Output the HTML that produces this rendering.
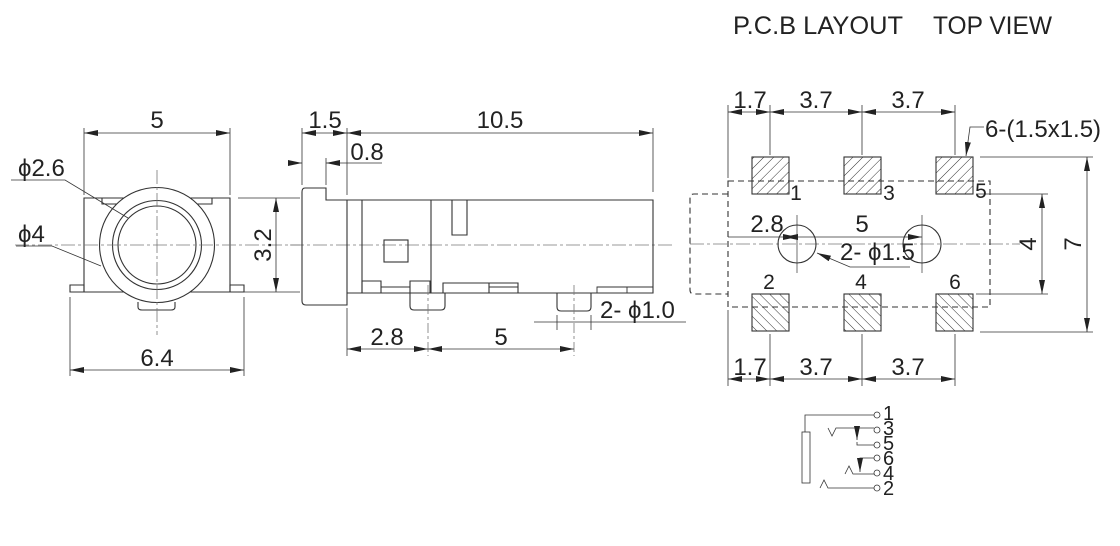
<!DOCTYPE html>
<html><head><meta charset="utf-8"><style>
html,body{margin:0;padding:0;background:#fff;}
svg{display:block;}
text{font-family:"Liberation Sans",sans-serif;fill:#222;}
</style></head><body>
<svg width="1120" height="546" viewBox="0 0 1120 546" xmlns="http://www.w3.org/2000/svg">
<defs>
<marker id="a" viewBox="0 0 14 6" refX="14" refY="3" markerWidth="14" markerHeight="6" orient="auto-start-reverse" markerUnits="userSpaceOnUse"><path d="M0,0 L14,3 L0,6 Z" fill="#222"/></marker>
<pattern id="h1" width="7" height="7" patternUnits="userSpaceOnUse" patternTransform="rotate(45)"><line x1="0" y1="0" x2="0" y2="7" stroke="#333" stroke-width="1"/></pattern>
<pattern id="h2" width="7" height="7" patternUnits="userSpaceOnUse" patternTransform="rotate(-45)"><line x1="0" y1="0" x2="0" y2="7" stroke="#333" stroke-width="1"/></pattern>
</defs>
<text x="733" y="34" font-size="25" textLength="170" lengthAdjust="spacingAndGlyphs">P.C.B LAYOUT</text>
<text x="933" y="34" font-size="25" textLength="119" lengthAdjust="spacingAndGlyphs">TOP VIEW</text>

<g fill="none" stroke="#333" stroke-width="1.1">
<!-- LEFT VIEW -->
<path d="M84,198 H230 V292 H84 Z" fill="#fff"/>
<path d="M70,285 H84 V292 H70 Z M230,285 H244 V292 H230 Z"/>
<path d="M102,198 V204 H212 V198"/>
<path d="M138,302 V307 Q138,310 142,310 H171 Q175,310 175,307 V302"/>
<circle cx="157" cy="245" r="57.5" fill="#fff"/>
<circle cx="157" cy="245" r="44.5"/>
<circle cx="157" cy="245" r="39"/>
<line x1="157" y1="170" x2="157" y2="335" stroke="#777" stroke-width="0.8" stroke-dasharray="14,3,3,3"/>
<line x1="15" y1="245" x2="300" y2="245" stroke="#777" stroke-width="0.8" stroke-dasharray="14,3,3,3"/>
<line x1="84" y1="128" x2="84" y2="195" stroke-width="0.8"/>
<line x1="230" y1="128" x2="230" y2="195" stroke-width="0.8"/>
<line x1="84" y1="133" x2="230" y2="133" stroke-width="0.8" marker-start="url(#a)" marker-end="url(#a)"/>
<line x1="238" y1="198" x2="300" y2="198" stroke-width="0.8"/>
<line x1="238" y1="292" x2="300" y2="292" stroke-width="0.8"/>
<line x1="276" y1="198" x2="276" y2="292" stroke-width="0.8" marker-start="url(#a)" marker-end="url(#a)"/>
<line x1="70" y1="297" x2="70" y2="376" stroke-width="0.8"/>
<line x1="244" y1="297" x2="244" y2="376" stroke-width="0.8"/>
<line x1="70" y1="370" x2="244" y2="370" stroke-width="0.8" marker-start="url(#a)" marker-end="url(#a)"/>
<path d="M11,180 H65 L128,218" stroke-width="0.8"/>
<path d="M16,246 H52 L101,266" stroke-width="0.8"/>

<!-- MIDDLE VIEW -->
<line x1="290" y1="245" x2="675" y2="245" stroke="#777" stroke-width="0.8" stroke-dasharray="14,3,3,3"/>
<path d="M305,188 H326 V200 H347 V305 H306 Q302,305 302,301 V192 Q302,188 305,188 Z"/>
<path d="M347,200 H653 V293 H347"/>
<line x1="362" y1="200" x2="362" y2="293"/>
<line x1="431" y1="200" x2="431" y2="293"/>
<rect x="384" y="240" width="24" height="22"/>
<path d="M452,200 V235 H467 V200"/>
<path d="M362,293 V281 H381 V293 M381,287 H410"/>
<path d="M410,293 V281 H430 V293 M410,293 V306 Q410,310 414,310 H441 Q445,310 445,306 V293"/>
<path d="M443,293 V283 H518 V293 M489,283 V293 M489,287 H518"/>
<path d="M557,293 V307 Q557,311 561,311 H587 Q591,311 591,307 V293"/>
<path d="M597,293 V287 H653 M627,287 V293" stroke-width="0.9"/>
<line x1="428" y1="285" x2="428" y2="356" stroke="#777" stroke-width="0.8" stroke-dasharray="10,3,3,3"/>
<line x1="574" y1="285" x2="574" y2="356" stroke="#777" stroke-width="0.8" stroke-dasharray="10,3,3,3"/>
<line x1="302" y1="128" x2="302" y2="185" stroke-width="0.8"/>
<line x1="347" y1="128" x2="347" y2="195" stroke-width="0.8"/>
<line x1="326" y1="158" x2="326" y2="185" stroke-width="0.8"/>
<line x1="653" y1="128" x2="653" y2="192" stroke-width="0.8"/>
<line x1="302" y1="133" x2="347" y2="133" stroke-width="0.8" marker-start="url(#a)" marker-end="url(#a)"/>
<line x1="347" y1="133" x2="653" y2="133" stroke-width="0.8" marker-end="url(#a)"/>
<line x1="347" y1="133" x2="362" y2="133" stroke-width="0.8" marker-start="url(#a)"/>
<line x1="288" y1="163" x2="302" y2="163" stroke-width="0.8" marker-end="url(#a)"/>
<line x1="382" y1="163" x2="326" y2="163" stroke-width="0.8" marker-end="url(#a)"/>
<line x1="347" y1="308" x2="347" y2="356" stroke-width="0.8"/>
<line x1="347" y1="349" x2="428" y2="349" stroke-width="0.8" marker-start="url(#a)" marker-end="url(#a)"/>
<line x1="428" y1="349" x2="574" y2="349" stroke-width="0.8" marker-start="url(#a)" marker-end="url(#a)"/>
<line x1="534" y1="322" x2="686" y2="322" stroke-width="0.8"/>
<line x1="557" y1="315" x2="557" y2="330" stroke-width="0.8"/>
<line x1="591" y1="315" x2="591" y2="330" stroke-width="0.8"/>

<!-- RIGHT PCB -->
<line x1="690" y1="244" x2="1020" y2="244" stroke="#777" stroke-width="0.8" stroke-dasharray="14,3,3,3"/>
<path d="M728,181 H990 V307 H728 Z" stroke-dasharray="6,4"/>
<path d="M728,194 H694 Q690,194 690,198 V290 Q690,294 694,294 H728" stroke-dasharray="6,4"/>
<g fill="url(#h1)"><rect x="752" y="157" width="37" height="37"/><rect x="844" y="157" width="37" height="37"/><rect x="936" y="157" width="37" height="37"/></g>
<g fill="url(#h2)"><rect x="752" y="294" width="37" height="37"/><rect x="844" y="294" width="37" height="37"/><rect x="936" y="294" width="37" height="37"/></g>
<circle cx="797" cy="244" r="19"/>
<circle cx="922" cy="244" r="19"/>
<line x1="797" y1="215" x2="797" y2="273" stroke-width="0.7"/>
<line x1="922" y1="215" x2="922" y2="273" stroke-width="0.7"/>
<g stroke-width="0.8">
<line x1="728" y1="105" x2="728" y2="178"/><line x1="770" y1="105" x2="770" y2="155"/><line x1="862" y1="105" x2="862" y2="155"/><line x1="955" y1="105" x2="955" y2="155"/>
<line x1="728" y1="112" x2="770" y2="112" marker-start="url(#a)" marker-end="url(#a)"/>
<line x1="770" y1="112" x2="862" y2="112" marker-start="url(#a)" marker-end="url(#a)"/>
<line x1="862" y1="112" x2="955" y2="112" marker-start="url(#a)" marker-end="url(#a)"/>
<line x1="728" y1="310" x2="728" y2="386"/><line x1="770" y1="334" x2="770" y2="386"/><line x1="862" y1="334" x2="862" y2="386"/><line x1="955" y1="334" x2="955" y2="386"/>
<line x1="728" y1="379" x2="770" y2="379" marker-start="url(#a)" marker-end="url(#a)"/>
<line x1="770" y1="379" x2="862" y2="379" marker-start="url(#a)" marker-end="url(#a)"/>
<line x1="862" y1="379" x2="955" y2="379" marker-start="url(#a)" marker-end="url(#a)"/>
<line x1="976" y1="194" x2="1048" y2="194"/><line x1="976" y1="294" x2="1048" y2="294"/>
<line x1="1042" y1="194" x2="1042" y2="294" marker-start="url(#a)" marker-end="url(#a)"/>
<line x1="980" y1="157" x2="1093" y2="157"/><line x1="980" y1="332" x2="1093" y2="332"/>
<line x1="1087" y1="157" x2="1087" y2="332" marker-start="url(#a)" marker-end="url(#a)"/>
<line x1="728" y1="237" x2="797" y2="237" marker-end="url(#a)"/>
<line x1="784" y1="237" x2="797" y2="237" marker-start="url(#a)"/>
<line x1="797" y1="237" x2="922" y2="237" marker-end="url(#a)"/>
<path d="M910,267 H850 L817,253" marker-end="url(#a)"/>
<path d="M984,127 H970 L966,156" marker-end="url(#a)"/>
</g>

<!-- SCHEMATIC -->
<g stroke-width="0.8">
<path d="M805,432 V415 H874"/>
<rect x="802" y="432" width="8" height="51"/>
<path d="M828,428 L832,436 L836,428 H874 M857,442 V445 H874"/>
<path d="M857,428 V440" marker-end="url(#a)"/>
<path d="M874,458 H860 V472" marker-end="url(#a)"/>
<path d="M845,474 L849,466 L853,474 H874"/>
<path d="M820,488 L824,480 L828,488 H874"/>
</g>
<g fill="#fff" stroke-width="0.8"><circle cx="877" cy="415" r="3"/><circle cx="877" cy="430" r="3"/><circle cx="877" cy="445" r="3"/><circle cx="877" cy="458" r="3"/><circle cx="877" cy="473" r="3"/><circle cx="877" cy="488" r="3"/></g>
</g>

<g font-size="24" text-anchor="middle">
<text x="157" y="128">5</text>
<text x="45" y="176" text-anchor="start" x2="0" transform="translate(-27,0)">ϕ2.6</text>
<text x="18" y="242" text-anchor="start">ϕ4</text>
<text transform="translate(271,245) rotate(-90)">3.2</text>
<text x="157" y="366">6.4</text>
<text x="325" y="128">1.5</text>
<text x="500" y="128">10.5</text>
<text x="367" y="160">0.8</text>
<text x="387" y="345">2.8</text>
<text x="501" y="345">5</text>
<text x="600" y="318" text-anchor="start">2- ϕ1.0</text>
<text x="750" y="108">1.7</text>
<text x="816" y="108">3.7</text>
<text x="908" y="108">3.7</text>
<text x="750" y="375">1.7</text>
<text x="816" y="375">3.7</text>
<text x="908" y="375">3.7</text>
<text x="985" y="137" text-anchor="start">6-(1.5x1.5)</text>
<text x="767" y="232">2.8</text>
<text x="862" y="232">5</text>
<text x="840" y="260" text-anchor="start">2- ϕ1.5</text>
<text transform="translate(1036,244) rotate(-90)">4</text>
<text transform="translate(1081,244) rotate(-90)">7</text>
</g>
<g font-size="21" text-anchor="middle">
<text x="796" y="200">1</text>
<text x="889" y="200">3</text>
<text x="981" y="198">5</text>
<text x="769" y="289">2</text>
<text x="861" y="289">4</text>
<text x="955" y="289">6</text>
</g>
<g font-size="20">
<text x="883" y="420">1</text><text x="883" y="435">3</text><text x="883" y="450">5</text><text x="883" y="465">6</text><text x="883" y="480">4</text><text x="883" y="495">2</text>
</g>
</svg>
</body></html>
